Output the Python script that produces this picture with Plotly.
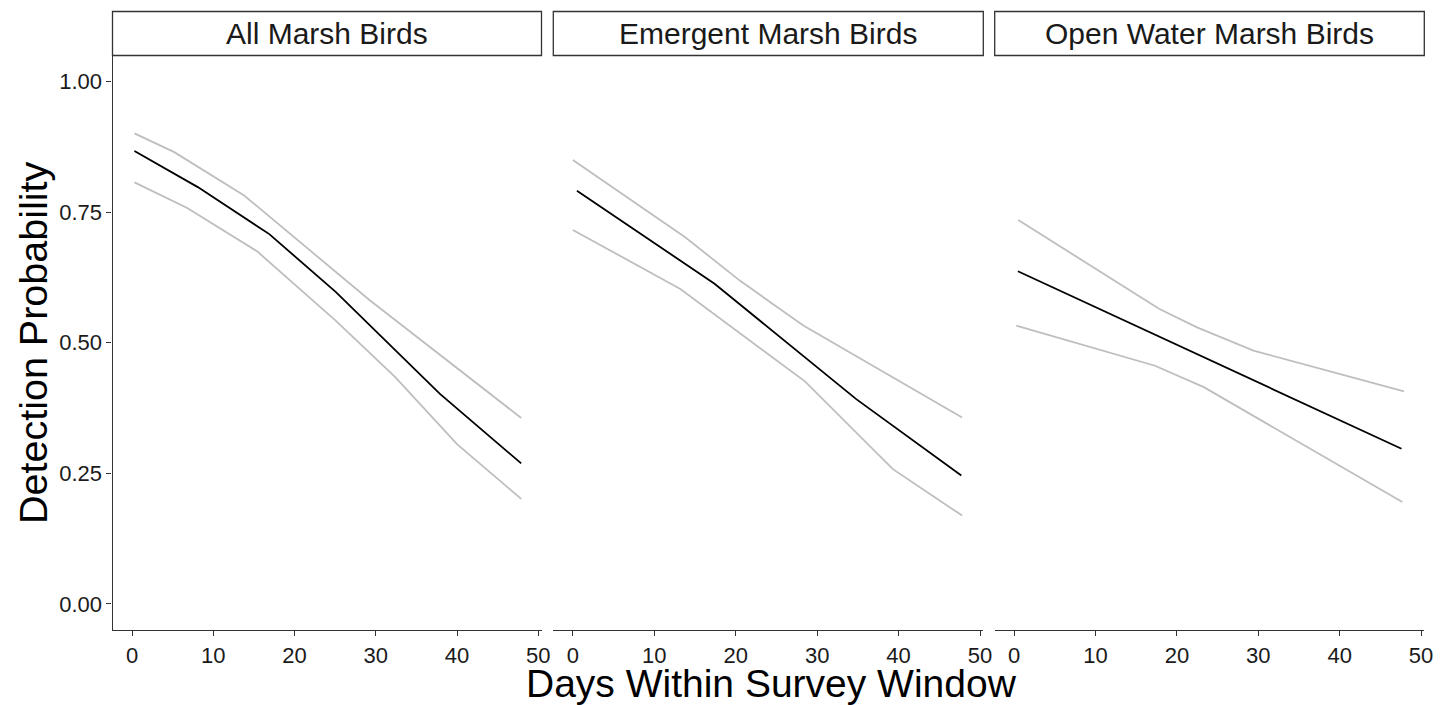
import plotly.graph_objects as go

# ---- data ----
panels = ["All Marsh Birds", "Emergent Marsh Birds", "Open Water Marsh Birds"]

all_mean_x = [0.3, 8.1, 16.9, 25.1, 37.9, 47.9]
all_mean_y = [0.867, 0.798, 0.708, 0.597, 0.402, 0.269]
all_upper_x = [0.3, 5.2, 13.8, 29.3, 47.9]
all_upper_y = [0.901, 0.865, 0.782, 0.581, 0.356]
all_lower_x = [0.3, 6.8, 15.4, 25.1, 32.4, 40.0, 47.9]
all_lower_y = [0.807, 0.758, 0.675, 0.542, 0.434, 0.306, 0.201]

em_mean_x = [0.5, 17.4, 34.8, 47.7]
em_mean_y = [0.791, 0.613, 0.392, 0.246]
em_upper_x = [0.0, 13.8, 20.5, 28.3, 47.8]
em_upper_y = [0.850, 0.702, 0.619, 0.533, 0.357]
em_lower_x = [0.0, 13.2, 28.5, 39.3, 47.8]
em_lower_y = [0.716, 0.603, 0.426, 0.258, 0.169]

ow_mean_x = [0.45, 18.75, 47.6]
ow_mean_y = [0.637, 0.505, 0.297]
ow_upper_x = [0.5, 17.8, 22.4, 29.4, 47.9]
ow_upper_y = [0.735, 0.565, 0.530, 0.485, 0.407]
ow_lower_x = [0.25, 17.3, 23.3, 47.7]
ow_lower_y = [0.533, 0.456, 0.415, 0.195]

x_ticks = [0, 10, 20, 30, 40, 50]
y_ticks = [0.0, 0.25, 0.5, 0.75, 1.0]
y_tick_labels = ["0.00", "0.25", "0.50", "0.75", "1.00"]

x_title = "Days Within Survey Window"
y_title = "Detection Probability"

# ---- styling ----
FONT = "Liberation Sans, Arial, sans-serif"
GRAY = "#bebebe"
BLACK = "#000000"
TICK_SIZE = 22

W, H = 1453, 705
ML, MR, MT, MB = 112, 28, 11, 75
PW = W - ML - MR
PH = H - MT - MB

def fx(px):
    return min(1.0, max(0.0, (px - ML) / PW))

def fy(py):
    return min(1.0, max(0.0, (H - MB - py) / PH))

x_domains = [[fx(112.5), fx(541.5)], [fx(553.3), fx(983.3)], [fx(994.7), fx(1424.3)]]
y_domain = [0, fy(55.5)]

series = [
    (all_mean_x, all_mean_y, all_upper_x, all_upper_y, all_lower_x, all_lower_y),
    (em_mean_x, em_mean_y, em_upper_x, em_upper_y, em_lower_x, em_lower_y),
    (ow_mean_x, ow_mean_y, ow_upper_x, ow_upper_y, ow_lower_x, ow_lower_y),
]

fig = go.Figure()
for i, (mx, my, ux, uy, lx, ly) in enumerate(series):
    suffix = "" if i == 0 else str(i + 1)
    xa, ya = "x" + suffix, "y" + suffix
    fig.add_trace(go.Scatter(x=ux, y=uy, mode="lines", line=dict(color=GRAY, width=1.8),
                             xaxis=xa, yaxis=ya, showlegend=False, hoverinfo="skip"))
    fig.add_trace(go.Scatter(x=lx, y=ly, mode="lines", line=dict(color=GRAY, width=1.8),
                             xaxis=xa, yaxis=ya, showlegend=False, hoverinfo="skip"))
    fig.add_trace(go.Scatter(x=mx, y=my, mode="lines", line=dict(color=BLACK, width=1.8),
                             xaxis=xa, yaxis=ya, showlegend=False))

layout = dict(
    width=W, height=H,
    margin=dict(l=ML, r=MR, t=MT, b=MB, pad=0),
    paper_bgcolor="white", plot_bgcolor="white",
    font=dict(family=FONT, color="black"),
    showlegend=False,
)

for i in range(3):
    suffix = "" if i == 0 else str(i + 1)
    layout["xaxis" + suffix] = dict(
        domain=x_domains[i], range=[-2.4, 50.4], anchor="y" + suffix,
        tickmode="array", tickvals=x_ticks, ticks="outside", ticklen=5, tickwidth=1,
        tickcolor="#333333", showline=True, linecolor="#333333", linewidth=1.2,
        showgrid=False, zeroline=False, ticklabelstandoff=0,
        tickfont=dict(size=TICK_SIZE, family=FONT, color="#1a1a1a"),
    )
    yax = dict(
        domain=y_domain, range=[-0.05, 1.05], anchor="x" + suffix,
        showgrid=False, zeroline=False,
    )
    if i == 0:
        yax.update(tickmode="array", tickvals=y_ticks, ticktext=y_tick_labels,
                   ticks="outside", ticklen=5, tickwidth=1, tickcolor="#333333",
                   showline=True, linecolor="#333333", linewidth=1.2,
                   tickfont=dict(size=TICK_SIZE, family=FONT, color="#1a1a1a"))
    else:
        yax.update(showticklabels=False, showline=False, ticks="", matches="y")
    layout["yaxis" + suffix] = yax

shapes = []
annotations = []
for i, name in enumerate(panels):
    x0, x1 = x_domains[i]
    shapes.append(dict(type="rect", xref="paper", yref="paper",
                       x0=x0, x1=x1, y0=y_domain[1], y1=fy(11.5),
                       line=dict(color="#333333", width=1.3), fillcolor="white", layer="above"))
    annotations.append(dict(text=name, xref="paper", yref="paper",
                            x=(x0 + x1) / 2, y=(y_domain[1] + fy(11.5)) / 2,
                            xanchor="center", yanchor="middle", showarrow=False,
                            font=dict(size=30, family=FONT, color="#1a1a1a")))

annotations.append(dict(text=x_title, xref="paper", yref="paper",
                        x=(771 - ML) / PW, y=(H - MB - 683) / PH, xanchor="center", yanchor="middle",
                        showarrow=False, font=dict(size=39, family=FONT, color="black")))
annotations.append(dict(text=y_title, xref="paper", yref="paper",
                        x=(33 - ML) / PW, y=(H - MB - 343) / PH, xanchor="center", yanchor="middle",
                        textangle=-90, showarrow=False,
                        font=dict(size=39.5, family=FONT, color="black")))

layout["shapes"] = shapes
layout["annotations"] = annotations
fig.update_layout(**layout)

fig.write_html("out.html")
